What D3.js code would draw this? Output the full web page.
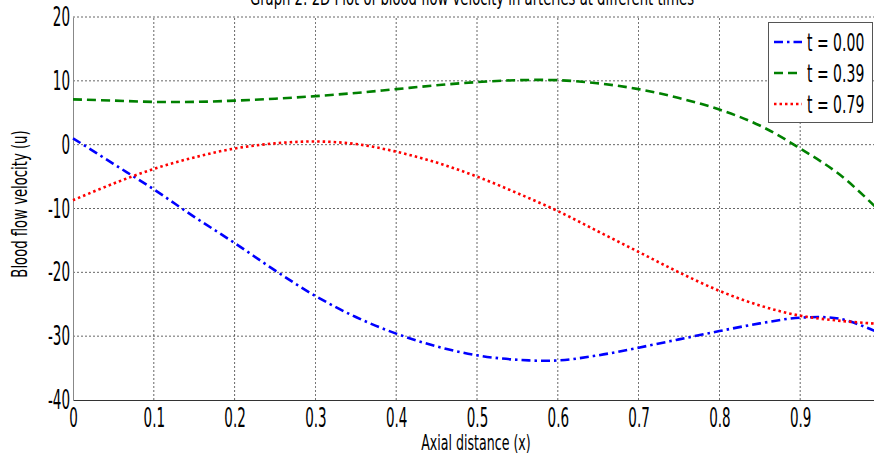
<!DOCTYPE html>
<html>
<head>
<meta charset="utf-8">
<script src="https://cdn.jsdelivr.net/npm/d3@7"></script>
<style>
  body { margin: 0; background: #fff; }
  #chart { width: 874px; height: 459px; overflow: hidden; }
  text { font-family: "DejaVu Sans", sans-serif; fill: #000; }
</style>
</head>
<body>
<div id="chart"></div>
<script>
const xs = [0, 0.05, 0.1, 0.15, 0.2, 0.25, 0.3, 0.35, 0.4, 0.45, 0.5, 0.55, 0.6, 0.65, 0.7, 0.75, 0.8, 0.85, 0.9, 0.95, 1.0];
const uT000 = [1, -3, -7, -11.3, -15.4, -19.7, -23.7, -27, -29.6, -31.6, -33, -33.7, -33.8, -33, -31.8, -30.5, -29.2, -28, -27.1, -27.3, -29.6];
const uT039 = [7.1, 6.9, 6.7, 6.7, 6.9, 7.2, 7.6, 8.1, 8.7, 9.3, 9.8, 10.1, 10.1, 9.6, 8.7, 7.3, 5.5, 3.0, -0.6, -4.8, -10.6];
const uT079 = [-8.7, -6.1, -3.8, -2, -0.6, 0.2, 0.5, 0.1, -1.1, -2.8, -5, -7.6, -10.4, -13.6, -16.8, -20, -22.9, -25.2, -26.8, -27.6, -28.1];
const labels = ["t = 0.00", "t = 0.39", "t = 0.79"];
const xTicks = [0, 0.1, 0.2, 0.3, 0.4, 0.5, 0.6, 0.7, 0.8, 0.9];
const yTicks = [-40, -30, -20, -10, 0, 10, 20];

const width = 874, height = 459;
const margin = { left: 73, top: 17, bottom: 59 };

const series = [
  { name: labels[0], vals: uT000, color: "#0000ff", dash: "9,4,2.5,4" },
  { name: labels[1], vals: uT039, color: "#008000", dash: "9,5" },
  { name: labels[2], vals: uT079, color: "#ff0000", dash: "2.5,3" }
];

// the original uses a very narrow font, squeeze DejaVu to match
function squeeze(sel, k) {
  sel.each(function () {
    const w = this.getComputedTextLength();
    d3.select(this).attr("textLength", w * k).attr("lengthAdjust", "spacingAndGlyphs");
  });
}

const x = d3.scaleLinear().domain([0, 1]).range([margin.left, 881]);
const y = d3.scaleLinear().domain([-40, 20]).range([height - margin.bottom, margin.top]);

const svg = d3.select("#chart").append("svg").attr("width", width).attr("height", height);

// grid
const grid = svg.append("g");
grid.selectAll("line.vx").data(xTicks.filter(d => d > 0)).enter().append("line")
  .attr("x1", d => x(d)).attr("x2", d => x(d))
  .attr("y1", y(-40)).attr("y2", y(20))
  .attr("stroke", "#000").attr("stroke-width", 0.8).attr("stroke-dasharray", "2,2").attr("opacity", 0.75);
grid.selectAll("line.hy").data(yTicks.filter(d => d > -40)).enter().append("line")
  .attr("x1", x(0)).attr("x2", width)
  .attr("y1", d => y(d)).attr("y2", d => y(d))
  .attr("stroke", "#000").attr("stroke-width", 0.8).attr("stroke-dasharray", "2,2").attr("opacity", 0.75);

// axes
const xAxis = svg.append("g").attr("transform", `translate(0,${y(-40)})`)
  .call(d3.axisBottom(x).tickValues(xTicks).tickFormat(d => d === 0 ? "0" : d3.format(".1f")(d)).tickSize(0).tickPadding(8));
xAxis.select(".domain").attr("stroke", "#333");
xAxis.selectAll("text").style("font-size", "27px").attr("dy", "0.72em").call(squeeze, 0.5);

const yAxis = svg.append("g").attr("transform", `translate(${x(0)},0)`)
  .call(d3.axisLeft(y).tickValues(yTicks).tickFormat(d => String(d)).tickSize(0).tickPadding(3));
yAxis.select(".domain").attr("stroke", "#888");
yAxis.selectAll("text").style("font-size", "27px").call(squeeze, 0.5);

// lines
const line = d3.line().x((d, i) => x(xs[i])).y(d => y(d)).curve(d3.curveCatmullRom);
svg.append("g").selectAll("path").data(series).enter().append("path")
  .attr("d", d => line(d.vals))
  .attr("fill", "none").attr("stroke", d => d.color)
  .attr("stroke-width", 2.6).attr("stroke-dasharray", d => d.dash);

// labels
svg.append("text").attr("x", 476).attr("y", 450).attr("text-anchor", "middle")
  .style("font-size", "21px").text("Axial distance (x)").call(squeeze, 0.6);
svg.append("text").attr("transform", "translate(27,204) rotate(-90)").attr("text-anchor", "middle")
  .style("font-size", "22px").text("Blood flow velocity (u)").call(squeeze, 0.6);
svg.append("text").attr("x", 472).attr("y", 5).attr("text-anchor", "middle")
  .style("font-size", "22px").text("Graph 2: 2D Plot of blood flow velocity in arteries at different times").call(squeeze, 0.6);

// legend
const legend = svg.append("g");
legend.append("rect").attr("x", 768.5).attr("y", 22.5).attr("width", 104).attr("height", 100)
  .attr("fill", "#fff").attr("stroke", "#555").attr("stroke-width", 1);
const items = legend.selectAll("g").data(series).enter().append("g")
  .attr("transform", (d, i) => `translate(0,${42 + i * 31})`);
items.append("line").attr("x1", 774).attr("x2", 802).attr("y1", 0).attr("y2", 0)
  .attr("stroke", d => d.color).attr("stroke-width", 2.6).attr("stroke-dasharray", d => d.dash);
items.append("text").attr("x", 807).attr("y", 0).attr("dy", "0.36em")
  .style("font-size", "25px").text(d => d.name).call(squeeze, 0.56);
</script>
</body>
</html>
